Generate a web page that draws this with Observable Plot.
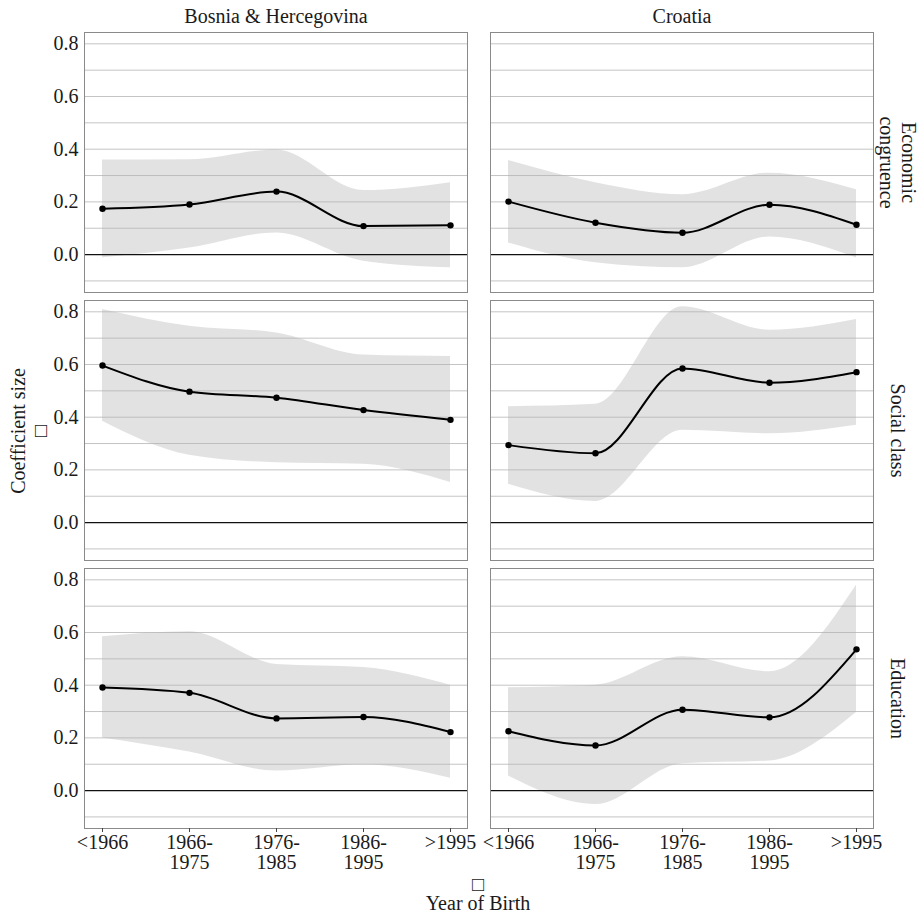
<!DOCTYPE html>
<html>
<head>
<meta charset="utf-8">
<script src="https://cdn.jsdelivr.net/npm/d3@7"></script>
<script src="https://cdn.jsdelivr.net/npm/@observablehq/plot@0.6"></script>
<style>
  html, body { margin: 0; padding: 0; background: #fff; }
  #wrap { position: relative; width: 924px; height: 918px; font-family: "Liberation Serif", "Times New Roman", "DejaVu Serif", serif; color: #1a1a1a; }
  #chart { position: absolute; left: 0; top: 0; }
  .ytitle { position: absolute; left: 29px; top: 431px; transform: translate(-50%, -50%) rotate(-90deg); white-space: pre; text-align: center; font-size: 20px; line-height: 22px; }
  .xtitle { position: absolute; left: 478px; top: 894px; transform: translate(-50%, -50%); white-space: pre; text-align: center; font-size: 20px; line-height: 19px; }
</style>
</head>
<body>
<div id="wrap">
  <div id="chart"></div>
  <div class="ytitle">Coefficient size
□</div>
  <div class="xtitle">□
Year of Birth</div>
</div>
<script>
// ---- categories ----
const countries = ["Bosnia & Hercegovina", "Croatia"];
const variables = ["Economic congruence", "Social class", "Education"];
const rowLabels = ["Economic\ncongruence", "Social class", "Education"];
const cohorts = ["<1966", "1966-1975", "1976-1985", "1986-1995", ">1995"];
const cohortLabels = ["<1966", "1966-\n1975", "1976-\n1985", "1986-\n1995", ">1995"];
const yTicks = [0, 0.2, 0.4, 0.6, 0.8];
const gridLines = [-0.1, 0.1, 0.2, 0.3, 0.4, 0.5, 0.6, 0.7, 0.8];

// ---- Bosnia & Hercegovina ----
const bihEconomicEst = [0.174, 0.190, 0.239, 0.108, 0.111];
const bihEconomicLo  = [-0.012, 0.025, 0.082, -0.025, -0.050];
const bihEconomicHi  = [0.359, 0.360, 0.397, 0.243, 0.273];
const bihSocialEst   = [0.596, 0.497, 0.474, 0.427, 0.390];
const bihSocialLo    = [0.385, 0.256, 0.227, 0.221, 0.152];
const bihSocialHi    = [0.809, 0.745, 0.720, 0.636, 0.630];
const bihEducEst     = [0.391, 0.371, 0.274, 0.279, 0.222];
const bihEducLo      = [0.200, 0.146, 0.074, 0.098, 0.047];
const bihEducHi      = [0.584, 0.603, 0.479, 0.467, 0.400];

// ---- Croatia ----
const croEconomicEst = [0.201, 0.121, 0.083, 0.189, 0.113];
const croEconomicLo  = [0.044, -0.031, -0.050, 0.067, -0.013];
const croEconomicHi  = [0.357, 0.273, 0.227, 0.309, 0.246];
const croSocialEst   = [0.294, 0.263, 0.585, 0.531, 0.571];
const croSocialLo    = [0.145, 0.080, 0.350, 0.337, 0.369];
const croSocialHi    = [0.440, 0.449, 0.819, 0.730, 0.771];
const croEducEst     = [0.225, 0.171, 0.307, 0.278, 0.536];
const croEducLo      = [0.055, -0.053, 0.102, 0.112, 0.296];
const croEducHi      = [0.390, 0.400, 0.508, 0.451, 0.779];

const panels = [
  [countries[0], variables[0], bihEconomicEst, bihEconomicLo, bihEconomicHi],
  [countries[0], variables[1], bihSocialEst, bihSocialLo, bihSocialHi],
  [countries[0], variables[2], bihEducEst, bihEducLo, bihEducHi],
  [countries[1], variables[0], croEconomicEst, croEconomicLo, croEconomicHi],
  [countries[1], variables[1], croSocialEst, croSocialLo, croSocialHi],
  [countries[1], variables[2], croEducEst, croEducLo, croEducHi]
];
const data = [];
for (const [country, variable, est, lo, hi] of panels) {
  cohorts.forEach((cohort, i) => data.push({country, variable, cohort, est: est[i], lo: lo[i], hi: hi[i]}));
}

const chart = Plot.plot({
  width: 924,
  height: 918,
  marginLeft: 83,
  marginRight: 50,
  marginTop: 32,
  marginBottom: 89,
  style: {fontFamily: "'Liberation Serif', 'Times New Roman', 'DejaVu Serif', serif", fontSize: "20px", color: "#1a1a1a", background: "white"},
  fx: {domain: countries, paddingInner: 0.0565, paddingOuter: 0, axis: null, label: null},
  fy: {domain: variables, paddingInner: 0.0298, paddingOuter: 0, axis: null, label: null},
  x: {type: "point", domain: cohorts, padding: 0.2, label: null},
  y: {domain: [-0.144, 0.843], label: null},
  marks: [
    Plot.ruleY(gridLines, {stroke: "#c4c4c4", strokeWidth: 1}),
    Plot.areaY(data, {x: "cohort", y1: "lo", y2: "hi", fx: "country", fy: "variable", curve: "monotone-x", fill: "#b4b4b4", fillOpacity: 0.38}),
    Plot.ruleY([0], {stroke: "#111", strokeWidth: 1.2}),
    Plot.frame({stroke: "#8a8a8a", strokeWidth: 1}),
    Plot.axisY(yTicks, {anchor: "left", tickSize: 0, tickPadding: 6, tickFormat: d3.format(".1f"), fontSize: 20, label: null}),
    Plot.axisX({anchor: "bottom", tickSize: 4, tickPadding: 2, stroke: "#444", tickFormat: d => cohortLabels[cohorts.indexOf(d)], fontSize: 20, label: null}),
    Plot.line(data, {x: "cohort", y: "est", fx: "country", fy: "variable", curve: "monotone-x", stroke: "#000", strokeWidth: 2}),
    Plot.dot(data, {x: "cohort", y: "est", fx: "country", fy: "variable", r: 3.2, fill: "#000", stroke: "none"}),
    Plot.text(countries, {fx: d => d, fy: () => variables[0], text: d => d, frameAnchor: "top", dy: -16, lineAnchor: "middle", fontSize: 20, fill: "#1a1a1a"}),
    Plot.text(variables, {fy: d => d, fx: () => countries[1], text: (d, i) => rowLabels[i], frameAnchor: "right", dx: 25, rotate: 90, textAnchor: "middle", lineAnchor: "middle", fontSize: 20, fill: "#1a1a1a", lineHeight: 1.1})
  ]
});
document.getElementById("chart").appendChild(chart);
</script>
</body>
</html>
